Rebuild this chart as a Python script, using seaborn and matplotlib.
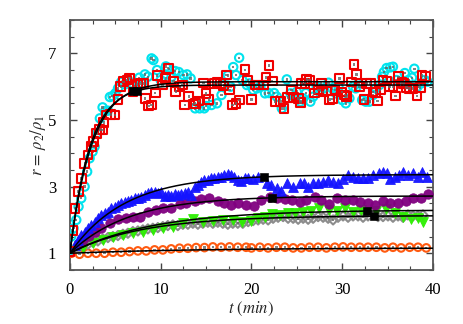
import matplotlib
matplotlib.use('Agg')

import numpy as np
import seaborn as sns
import matplotlib.pyplot as plt

sns.set_style("ticks")
plt.rcParams['font.family'] = ['Liberation Serif', 'DejaVu Serif']
plt.rcParams['mathtext.fontset'] = 'stix'

# cyan open circles
cyan_t = [0.0, 0.14, 0.4, 0.7, 0.95, 1.25, 1.62, 1.9, 2.17, 2.5, 2.72, 3.0, 3.3, 3.6, 3.89, 4.18, 4.4, 4.7,
          5.0, 5.3, 5.65, 6.06, 6.4, 6.75, 7.0, 7.3, 7.64, 7.95, 8.26, 8.6, 9.0, 9.2, 9.6, 10.0, 10.57, 10.8,
          11.2, 11.6, 12.0, 12.5, 12.9, 13.3, 13.8, 14.3, 14.8, 15.0, 15.6, 16.2, 16.7, 17.0, 17.4, 17.7,
          18.0, 18.3, 18.65, 19.0, 19.5, 19.8, 20.2, 20.6, 21.0, 21.5, 21.9, 22.5, 22.8, 23.35, 23.9, 24.3,
          24.7, 25.0, 25.4, 25.7, 26.0, 26.5, 26.8, 27.2, 27.6, 28.0, 28.5, 28.9, 29.3, 29.6, 30.0, 30.4,
          30.8, 31.2, 31.5, 31.8, 32.2, 32.6, 33.0, 33.4, 33.7, 34.1, 34.4, 34.6, 34.9, 35.3, 35.6, 36.0,
          36.4, 36.9, 37.3, 37.7, 37.95, 38.3, 38.7, 39.1, 39.4]
cyan_r = [1.1, 1.5, 1.75, 2.0, 2.4, 2.65, 3.0, 3.45, 3.85, 4.05, 4.2, 4.6, 5.05, 5.38, 5.27, 5.28, 5.69, 5.72,
          5.8, 5.95, 6.14, 6.07, 6.2, 6.1, 6.0, 5.9, 6.27, 6.1, 6.37, 6.3, 6.85, 6.8, 6.5, 6.2, 6.61, 6.57,
          6.3, 6.47, 6.44, 6.35, 6.37, 6.25, 5.35, 5.35, 5.35, 5.42, 5.45, 5.5, 5.75, 6.05, 6.34, 6.0,
          6.59, 6.35, 6.87, 6.2, 6.05, 6.1, 5.9, 5.95, 6.0, 5.8, 5.81, 5.81, 5.7, 5.35, 6.22, 5.8,
          5.7, 5.85, 5.55, 5.65, 5.81, 5.55, 5.7, 6.0, 5.9, 5.95, 6.12, 5.95, 5.8, 6.0, 5.6, 5.5,
          5.65, 6.0, 5.95, 6.1, 5.6, 5.55, 5.55, 5.75, 5.95, 6.05, 6.3, 6.44, 6.56, 6.58, 6.6, 6.2,
          6.1, 6.41, 6.2, 6.27, 6.54, 6.0, 6.1, 6.2, 6.15]

# red open squares
red_t = [0.0, 0.3, 0.55, 0.92, 1.29, 1.65, 2.0, 2.39, 2.57, 2.94, 3.3, 3.6, 3.74, 4.0, 4.5, 4.96, 5.3, 5.6,
         5.9, 6.3, 6.57, 6.94, 7.41, 7.8, 8.15, 8.3, 8.67, 9.0, 9.4, 9.61, 10.2, 10.57, 10.9, 11.4, 11.67,
         12.1, 12.4, 12.67, 13.1, 13.6, 13.8, 14.2, 14.7, 15.0, 15.3, 15.9, 16.2, 16.6, 16.96, 17.25, 17.6,
         17.9, 18.3, 18.7, 19.3, 19.6, 20.0, 20.4, 20.8, 21.3, 21.6, 21.95, 22.3, 22.6, 23.2, 23.6, 24.0,
         24.4, 24.6, 25.2, 25.4, 25.55, 25.9, 26.1, 26.4, 26.95, 27.4, 27.7, 27.9, 28.3, 28.6, 28.9, 29.2,
         29.7, 29.95, 30.3, 30.5, 31.0, 31.3, 31.6, 31.9, 32.4, 32.7, 33.1, 33.4, 33.7, 33.9, 34.2, 34.5,
         34.95, 35.2, 35.6, 35.9, 36.2, 36.6, 36.8, 37.1, 37.4, 37.8, 38.25, 38.6, 38.8, 39.2]
red_r = [1.05, 1.68, 2.35, 2.85, 3.25, 3.7, 3.95, 4.2, 4.35, 4.6, 4.72, 4.7, 4.92, 5.15, 5.17, 5.15, 5.62, 6.0,
         6.15, 6.2, 6.26, 5.84, 6.07, 6.1, 6.1, 5.65, 5.42, 5.45, 5.81, 6.34, 6.05, 6.25, 6.54, 6.17, 5.85,
         6.0, 6.05, 5.45, 5.7, 5.48, 5.5, 5.57, 6.11, 5.8, 5.62, 6.1, 6.12, 6.1, 6.02, 6.35, 5.9,
         5.45, 5.5, 5.6, 6.51, 6.19, 5.62, 6.05, 6.05, 6.05, 6.28, 6.64, 6.17, 5.55, 5.55, 5.35, 5.67,
         5.9, 5.67, 5.65, 5.53, 6.1, 6.1, 6.22, 6.2, 5.81, 5.9, 6.1, 5.84, 5.87, 5.62, 5.63, 5.9,
         6.25, 5.84, 5.75, 5.7, 6.14, 6.67, 6.37, 6.0, 5.62, 6.1, 6.1, 5.84, 5.83, 5.57, 5.9, 6.2,
         6.17, 6.0, 6.0, 5.72, 6.3, 6.12, 6.1, 5.97, 5.95, 5.95, 5.72, 5.97, 6.34, 6.3]

# blue up triangles
blue_t = [0.51, 0.88, 1.25, 1.62, 1.98, 2.35, 2.72, 3.08, 3.45, 3.82, 4.19, 4.55, 4.92, 5.29, 5.65, 6.02, 6.39,
          6.76, 7.12, 7.49, 7.86, 8.22, 8.59, 8.96, 9.33, 9.69, 10.06, 10.43, 10.79, 11.16, 11.53, 11.89,
          12.26, 12.63, 13.0, 13.36, 13.73, 14.1, 14.46, 14.83, 15.2, 15.57, 15.93, 16.3, 16.67, 17.03,
          17.4, 17.77, 18.13, 18.5, 18.87, 19.24, 19.6, 20.2, 20.7, 21.7, 22.2, 22.8, 23.3, 23.9, 24.6,
          25.3, 25.8, 26.2, 26.8, 27.35, 27.9, 28.4, 29.0, 29.55, 30.1, 30.65, 31.2, 31.75, 32.3, 32.85,
          33.4, 34.1, 34.5, 34.9, 35.3, 35.8, 36.3, 36.7, 37.25, 37.8, 38.4, 38.8, 39.35]
blue_r = [1.25, 1.4, 1.55, 1.65, 1.75, 1.85, 1.95, 2.05, 2.15, 2.2, 2.25, 2.35, 2.4, 2.45, 2.5, 2.55, 2.57,
          2.6, 2.65, 2.65, 2.7, 2.75, 2.8, 2.83, 2.85, 2.8, 2.83, 2.73, 2.75, 2.73, 2.77, 2.75,
          2.77, 2.8, 2.85, 2.75, 3.0, 3.05, 3.15, 3.2, 3.2, 3.25, 3.27, 3.3, 3.3, 3.35,
          3.37, 3.35, 3.3, 3.2, 3.17, 3.25, 3.27, 3.22, 3.28, 3.1, 3.05, 2.95, 2.88, 3.1, 3.0,
          3.12, 3.1, 3.0, 3.1, 3.12, 3.15, 3.2, 3.15, 3.12, 3.22, 3.35, 3.28, 3.25, 3.25, 3.25,
          3.35, 3.4, 3.45, 3.4, 3.22, 3.3, 3.35, 3.45, 3.35, 3.4, 3.28, 3.45, 3.3]

# purple filled circles
purple_t = [0.88, 1.43, 2.06, 2.72, 3.45, 4.37, 5.29, 6.2, 6.94, 7.67, 8.59, 9.5, 10.24, 11.16, 12.08, 12.8,
            13.73, 14.46, 15.38, 16.3, 17.03, 17.77, 18.57, 19.4, 20.27, 21.1, 22.0, 22.83, 23.68, 24.52,
            25.33, 26.06, 26.98, 27.72, 28.56, 29.44, 30.29, 31.2, 31.94, 32.86, 33.59, 34.5, 35.32,
            36.16, 37.0, 37.81, 38.73, 39.46]
purple_r = [1.27, 1.4, 1.52, 1.65, 1.77, 1.9, 2.02, 2.07, 2.08, 2.09, 2.25, 2.3, 2.35, 2.35, 2.47, 2.52,
            2.57, 2.63, 2.65, 2.57, 2.5, 2.45, 2.5, 2.45, 2.42, 2.6, 2.68, 2.65, 2.62, 2.6,
            2.55, 2.6, 2.68, 2.6, 2.48, 2.65, 2.6, 2.6, 2.55, 2.5, 2.45, 2.58, 2.52,
            2.52, 2.58, 2.65, 2.65, 2.77]

# green down triangles
green_t = [1.43, 2.53, 3.63, 4.74, 5.84, 6.94, 8.04, 9.14, 10.24, 11.34, 12.45, 13.55, 14.65, 15.75, 16.85,
           17.95, 19.0, 20.0, 20.74, 21.5, 22.3, 23.1, 24.0, 24.8, 25.7, 26.6, 27.5, 28.5, 29.4, 30.3,
           31.2, 32.1, 33.77, 34.87, 35.8, 36.7, 37.6, 38.36, 38.9]
green_r = [1.15, 1.3, 1.41, 1.5, 1.55, 1.6, 1.65, 1.7, 1.75, 1.8, 1.9, 2.03, 1.95, 1.97, 2.0,
           2.0, 1.95, 1.98, 2.05, 2.08, 2.18, 2.15, 2.2, 2.22, 2.25, 2.28, 2.35, 2.3, 2.28, 2.35,
           2.25, 2.3, 2.28, 2.32, 2.22, 2.1, 2.02, 2.05, 1.95]

# gray open diamonds
gray_t = [0.33, 0.88, 1.43, 1.98, 2.53, 3.08, 3.63, 4.19, 4.74, 5.29, 5.84, 6.39, 6.94, 7.49, 8.04, 8.59,
          9.14, 9.69, 10.24, 10.79, 11.34, 11.89, 12.45, 13.0, 13.55, 14.1, 14.65, 15.2, 15.75, 16.3,
          16.85, 17.4, 17.95, 18.5, 19.05, 19.64, 20.19, 20.74, 21.29, 21.84, 22.39, 22.94, 23.49,
          24.04, 24.6, 25.15, 25.7, 26.25, 26.8, 27.35, 27.9, 28.45, 29.0, 29.55, 30.1, 30.65, 31.2,
          31.75, 32.3, 32.85, 33.95, 34.5, 35.05, 35.6, 36.16, 36.7, 37.25, 37.8, 38.35, 38.9]
gray_r = [1.1, 1.15, 1.23, 1.27, 1.33, 1.37, 1.43, 1.47, 1.5, 1.53, 1.57, 1.6, 1.65, 1.67, 1.7, 1.73,
          1.75, 1.77, 1.8, 1.83, 1.85, 1.83, 1.87, 1.87, 1.9, 1.87, 1.9, 1.93, 1.9, 1.93,
          1.9, 1.87, 1.9, 1.9, 1.9, 1.95, 1.98, 2.0, 2.02, 2.0, 2.05, 2.08, 2.1,
          2.05, 2.05, 2.02, 2.05, 2.02, 2.05, 2.1, 2.08, 2.05, 2.0, 2.08, 2.12, 2.08, 2.12,
          2.12, 2.08, 2.12, 2.1, 2.1, 2.12, 2.08, 2.12, 2.08, 2.15, 2.12, 2.12, 2.15]

# orange open circles
orange_t = [0.15, 1.06, 1.98, 2.9, 3.82, 4.74, 5.65, 6.57, 7.49, 8.41, 9.33, 10.24, 11.16, 12.08, 13.0,
            13.91, 14.83, 15.75, 16.67, 17.59, 18.5, 19.42, 20.0, 20.93, 21.84, 22.76, 23.68, 24.6, 25.5,
            26.4, 27.35, 28.27, 29.2, 30.1, 31.0, 31.94, 32.86, 33.77, 34.7, 35.6, 36.5, 37.44, 38.36, 39.27]
orange_r = [1.0, 0.97, 1.0, 1.0, 1.0, 1.03, 1.03, 1.05, 1.07, 1.07, 1.1, 1.1, 1.13, 1.15, 1.15,
            1.17, 1.17, 1.19, 1.18, 1.19, 1.18, 1.18, 1.16, 1.18, 1.16, 1.18, 1.18, 1.16, 1.16,
            1.18, 1.18, 1.16, 1.18, 1.19, 1.18, 1.18, 1.18, 1.18, 1.16, 1.18, 1.16, 1.18, 1.18, 1.16]

# fitted saturation curves r = 1 + A (1 - exp(-t / tau))
fit_names = ["cyan", "red", "blue", "purple", "green", "gray", "orange"]
fit_amp = [5.15, 5.05, 2.36, 1.72, 1.3, 1.13, 0.16]
fit_tau = [2.4, 2.2, 6.0, 6.5, 9.0, 8.0, 14.0]
# black square markers on the fits
mark_names = ["cyan", "red", "blue", "purple", "green", "gray"]
mark_t = [7.0, 7.4, 21.4, 22.3, 32.7, 33.5]

fig = plt.figure(figsize=(4.63, 3.24), dpi=100)
ax = fig.add_axes([0.151, 0.167, 0.784, 0.771])


def open_series(t, r, color, marker, size):
    sns.scatterplot(x=t, y=r, marker=marker, s=size, color=color, fc='none', ec=color,
                    linewidth=1.5, ax=ax, zorder=3)
    sns.scatterplot(x=t, y=r, marker='s', s=3, color='#666666', ec='none', alpha=0.8, ax=ax, zorder=3)


def filled_series(t, r, color, marker, size):
    sns.scatterplot(x=t, y=r, marker=marker, s=size, color=color, ec=color, linewidth=0.6,
                    alpha=0.95, ax=ax, zorder=3)


open_series(orange_t, orange_r, '#ff5a10', 'o', 30)
open_series(gray_t, gray_r, '#8c8c8c', 'D', 22)
filled_series(green_t, green_r, '#2cf000', 'v', 50)
filled_series(purple_t, purple_r, '#800080', 'o', 46)
filled_series(blue_t, blue_r, '#1414ff', '^', 50)
open_series(cyan_t, cyan_r, '#00e3ee', 'o', 36)
open_series(red_t, red_r, '#f00000', 's', 40)

tt = np.linspace(0, 40, 400)
for name, a, tau in zip(fit_names, fit_amp, fit_tau):
    sns.lineplot(x=tt, y=1 + a * (1 - np.exp(-tt / tau)), color='black', linewidth=1.1,
                 ax=ax, zorder=4)

params = dict(zip(fit_names, zip(fit_amp, fit_tau)))
mt = np.array(mark_t)
mr = np.array([1 + params[n][0] * (1 - np.exp(-t / params[n][1])) for n, t in zip(mark_names, mark_t)])
sns.scatterplot(x=mt, y=mr, marker='s', s=30, color='black', ec='black', ax=ax, zorder=5)

ax.set_xlim(0, 40)
ax.set_ylim(0.5, 8.0)
ax.set_xticks([0, 10, 20, 30, 40])
ax.set_yticks([1, 3, 5, 7])
ax.set_xticks(np.arange(0, 40.1, 2.5), minor=True)
ax.set_yticks(np.arange(0.5, 8.01, 0.5), minor=True)
ax.tick_params(which='both', direction='in', top=True, right=True, colors='#444444',
               labelcolor='black', labelsize=12)
ax.tick_params(which='major', length=5, width=1.0)
ax.tick_params(which='minor', length=3, width=0.8)
ax.tick_params(axis='x', pad=9)
ax.tick_params(axis='y', pad=10)
for sp in ax.spines.values():
    sp.set_color('#555555')
    sp.set_linewidth(1.3)

ax.set_xlabel(r'$t\ (min)$', fontsize=12, labelpad=1)
ax.set_ylabel(r'$r\,=\,\rho_2/\rho_1$', fontsize=12, labelpad=0)

plt.savefig('out.png', dpi=100)
